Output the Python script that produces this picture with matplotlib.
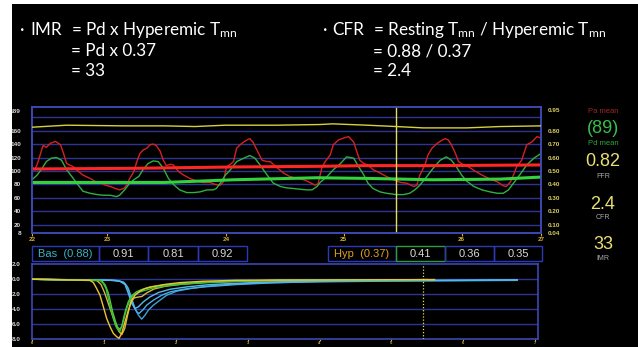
import matplotlib
matplotlib.use("Agg")
import matplotlib.pyplot as plt
from matplotlib.patches import Rectangle

plt.rcParams['font.family'] = ['Lato', 'DejaVu Sans']
plt.rcParams['mathtext.fontset'] = 'custom'
plt.rcParams['mathtext.rm'] = 'Lato'
plt.rcParams['mathtext.it'] = 'Lato:italic'
plt.rcParams['mathtext.bf'] = 'Lato:bold'

# ---------------- data ----------------
# Upper panel: pressure tracing (time axis, mmHg)
t_pa = [22.00,22.03,22.06,22.10,22.11,22.14,22.18,22.23,22.28,22.31,
        22.34,22.37,22.41,22.46,22.50,22.57,22.64,22.68,22.72,22.77,
        22.82,22.86,22.90,22.93,22.96,23.00,23.03,23.06,23.09,23.13,
        23.16,23.19,23.22,23.26,23.29,23.32,23.36,23.39,23.44,23.49,
        23.55,23.62,23.68,23.75,23.80,23.85,23.88,23.91,23.94,23.98,
        24.01,24.06,24.11,24.14,24.17,24.21,24.26,24.31,24.34,24.40,
        24.47,24.53,24.60,24.67,24.73,24.78,24.81,24.83,24.85,24.88,
        24.93,24.96,25.01,25.06,25.11,25.16,25.19,25.22,25.26,25.30,
        25.35,25.42,25.48,25.55,25.62,25.68,25.75,25.78,25.81,25.86,
        25.89,25.93,25.98,26.03,26.06,26.09,26.12,26.16,26.19,26.24,
        26.29,26.34,26.42,26.50,26.57,26.63,26.66,26.70,26.73,26.76,
        26.81,26.86,26.91,26.96,27.00]
pa = [106,102,114,134,138,135,141,144,139,126,
      111,109,106,99,94,89,83,82,79,77,
      74,72,74,79,89,99,114,126,131,134,
      139,140,138,129,116,108,110,109,99,94,
      89,85,83,83,80,79,84,106,109,114,
      134,141,146,148,143,131,116,114,114,106,
      97,92,89,87,83,79,81,94,106,114,
      124,139,146,149,151,143,129,116,111,109,
      102,97,92,87,83,82,77,79,94,109,
      124,134,141,146,148,146,139,126,114,109,
      106,101,94,88,84,78,77,84,94,106,
      116,139,143,151,149]

t_pd = [22.00,22.05,22.10,22.14,22.19,22.24,22.29,22.34,22.39,22.44,
        22.50,22.57,22.64,22.70,22.77,22.83,22.86,22.91,22.96,23.00,
        23.05,23.09,23.14,23.19,23.24,23.29,23.34,23.39,23.45,23.52,
        23.59,23.65,23.72,23.78,23.81,23.85,23.90,23.95,24.01,24.08,
        24.14,24.19,24.24,24.31,24.37,24.44,24.50,24.57,24.63,24.70,
        24.75,24.80,24.83,24.90,24.96,25.03,25.09,25.16,25.21,25.26,
        25.30,25.35,25.42,25.48,25.58,25.65,25.71,25.76,25.81,25.88,
        25.94,26.01,26.07,26.12,26.17,26.22,26.27,26.34,26.42,26.50,
        26.57,26.63,26.68,26.73,26.79,26.86,26.93,26.99]
pd_ = [87,94,104,114,119,120,116,102,92,82,
       70,67,65,64,64,62,64,72,82,87,
       92,102,111,115,114,104,89,80,72,68,
       68,69,72,72,74,82,94,102,114,119,
       123,119,109,94,82,77,75,74,73,72,
       72,77,83,92,102,111,121,119,106,94,
       82,74,69,67,65,65,67,72,79,92,
       104,116,121,116,106,94,85,77,72,69,
       67,67,72,82,94,109,119,125]

t_pa_mean = [22.00,23.00,23.98,24.83,25.29,25.94,27.00]
pa_mean = [103,104,106,107,108,108,109]
t_pd_mean = [22.00,23.30,23.98,24.80,25.30,25.94,26.60,27.00]
pd_mean = [83,83,87,90,89,87,88,91]

t_ratio = [22.00,22.34,22.90,23.30,23.60,23.90,24.40,24.83,24.95,25.29,25.58,25.84,26.27,26.60,27.00]
ratio = [0.825,0.84,0.835,0.835,0.83,0.84,0.84,0.845,0.85,0.84,0.83,0.82,0.82,0.83,0.835]

cursor_t = 25.58
left_ticks = [8,20,40,60,80,100,120,140,160,189]
left_labels = ['8','20','40','60','80','100','120','140','160','189']
right_ticks = [0.04,0.10,0.20,0.30,0.40,0.50,0.60,0.70,0.80,0.95]
right_labels = ['0.04','0.10','0.20','0.30','0.40','0.50','0.60','0.70','0.80','0.95']
grid_vals = [20,40,60,80,100,120,140,160,180]
time_tick_pos = [22.0,22.74,23.91,25.06,26.22,27.0]
time_tick_lab = ['22','23','24','25','26','27']

# Lower panel: thermodilution curves (s, temperature change)
s_yel_a = [0,0.807,0.854,0.900,0.946,0.993,1.039,1.086,1.132,1.178,1.211,1.248,1.294,1.341,1.387,1.433,1.503,1.573,1.665,1.828,2.060,2.384,2.848,3.312,4.2,5.0,5.6]
v_yel_a = [0,-0.14,-0.45,-1.25,-2.14,-3.69,-5.25,-6.36,-7.25,-7.69,-7.91,-7.25,-5.69,-4.14,-2.80,-2.14,-1.60,-1.25,-1.03,-0.72,-0.45,-0.27,-0.14,-0.12,-0.1,-0.06,-0.05]
s_yel_b = [0,0.90,0.96,1.01,1.06,1.11,1.16,1.21,1.25,1.29,1.33,1.37,1.42,1.47,1.53,1.60,1.70,1.85,2.10,2.50,3.00,3.50,4.5,5.6]
v_yel_b = [0,-0.15,-0.7,-1.8,-3.2,-4.6,-6.0,-7.0,-7.4,-6.6,-4.8,-3.2,-2.5,-2.4,-2.3,-1.8,-1.3,-0.95,-0.65,-0.4,-0.25,-0.15,-0.1,-0.05]
s_grn_a = [0,0.946,0.993,1.030,1.062,1.095,1.132,1.169,1.202,1.225,1.248,1.280,1.317,1.364,1.410,1.480,1.549,1.689,1.921,2.384,2.848,3.312,4.5,5.5]
v_grn_a = [0,-0.14,-0.58,-1.25,-2.58,-3.91,-5.25,-6.36,-6.80,-6.94,-6.36,-5.25,-3.91,-2.80,-2.14,-1.78,-1.56,-1.16,-0.80,-0.45,-0.27,-0.14,-0.1,-0.05]
s_grn_b = [0,0.97,1.02,1.06,1.09,1.12,1.16,1.19,1.22,1.25,1.27,1.30,1.34,1.39,1.45,1.52,1.65,1.90,2.40,2.90,3.40,4.5,5.5]
v_grn_b = [0,-0.2,-0.8,-1.8,-3.0,-4.3,-5.6,-6.4,-6.7,-6.3,-5.4,-4.2,-3.0,-2.2,-1.7,-1.4,-1.0,-0.7,-0.4,-0.25,-0.15,-0.1,-0.05]
s_blu_1 = [0,1.178,1.225,1.294,1.341,1.387,1.433,1.480,1.526,1.573,1.619,1.689,1.781,1.874,2.013,2.199,2.477,2.848,3.312,4.0,5.0,6.0,6.75]
v_blu_1 = [0,-0.14,-0.27,-0.58,-1.25,-2.58,-3.91,-4.80,-5.34,-4.80,-4.14,-3.47,-2.80,-2.14,-1.60,-1.25,-0.89,-0.62,-0.45,-0.35,-0.25,-0.2,-0.15]
s_blu_2 = [0,1.132,1.271,1.327,1.373,1.420,1.457,1.489,1.540,1.596,1.689,1.805,1.921,2.106,2.384,2.848,3.312,4.0,5.0,6.0,6.75]
v_blu_2 = [0,-0.14,-0.36,-1.03,-2.36,-3.69,-4.36,-4.58,-4.14,-3.47,-2.80,-2.14,-1.69,-1.34,-1.03,-0.71,-0.50,-0.3,-0.2,-0.15,-0.1]
s_blu_3 = [0,1.086,1.225,1.294,1.341,1.387,1.433,1.480,1.549,1.642,1.758,1.921,2.152,2.477,2.848,3.312,4.0,5.0,6.0,6.75]
v_blu_3 = [0,-0.14,-0.27,-0.71,-1.91,-3.25,-3.91,-3.69,-3.03,-2.36,-1.78,-1.34,-1.03,-0.71,-0.54,-0.36,-0.25,-0.18,-0.12,-0.08]
td_cursor = 5.44
td_yticks = [2,0,-2,-4,-6,-8]
td_ylabels = ['2.0','0.0','2.0','4.0','6.0','8.0']
td_xticks = [0,1,2,3,4,5,6,7]
td_grid = [0,-2,-4,-6]

bas_label = 'Bas  (0.88)'
bas_values = ['0.91','0.81','0.92']
hyp_label = 'Hyp  (0.37)'
hyp_values = ['0.41','0.36','0.35']

side_texts = [('Pa mean', 111, 5.5, '#a02828'),
              ('(89)', 128, 13, '#38c048'),
              ('Pd mean', 143, 5.5, '#30a840'),
              ('0.82', 161, 13, '#e8e070'),
              ('FFR', 176, 5, '#a8a8a8'),
              ('2.4', 204, 13, '#e8e070'),
              ('CFR', 217, 5, '#a8a8a8'),
              ('33', 244, 13, '#e8e070'),
              ('IMR', 259, 5, '#a8a8a8')]

# ---------------- figure ----------------
W, H = 638, 347
fig = plt.figure(figsize=(W/100, H/100), dpi=100, facecolor='black')

def ax_px(x0, y0, x1, y1):
    return fig.add_axes([x0/W, 1 - y1/H, (x1 - x0)/W, (y1 - y0)/H])

SPINE = '#3c48b4'
GRID = '#2e3494'
MONO = ['Liberation Sans', 'DejaVu Sans']

# Upper panel
ax = ax_px(32, 107, 541, 233)
ax.set_facecolor('black')
ax.set_xlim(22, 27)
ax.set_ylim(8, 195)
for g in grid_vals:
    ax.axhline(g, color=GRID, lw=1.0, zorder=1)
ax.plot(t_pa, pa, color='#d42222', lw=1.0, zorder=3)
ax.plot(t_pd, pd_, color='#2fb040', lw=1.0, zorder=3)
ax.plot(t_pa_mean, pa_mean, color='#ff2626', lw=2.2, zorder=4)
ax.plot(t_pd_mean, pd_mean, color='#33d23f', lw=2.2, zorder=4)
ax.axvline(cursor_t, color='#e4dc60', lw=1.0, zorder=5)
ax.set_yticks(left_ticks)
ax.set_yticklabels(left_labels, fontsize=4.6, color='#d8d8d8', fontweight='bold', family=MONO)
ax.tick_params(axis='y', length=0, pad=8)
ax.set_xticks(time_tick_pos)
ax.set_xticklabels(time_tick_lab, fontsize=4.6, color='#d4b030', fontweight='bold', family=MONO)
ax.tick_params(axis='x', length=2, width=0.8, color='#d4b030', pad=1)
for sp in ax.spines.values():
    sp.set_color(SPINE)
    sp.set_linewidth(1.2)

ax2 = ax.twinx()
ax2.set_ylim(0.04, 0.975)
ax2.plot(t_ratio, ratio, color='#d8d040', lw=1.0, zorder=3)
ax2.set_yticks(right_ticks)
ax2.set_yticklabels(right_labels, fontsize=4.6, color='#d8cc60', fontweight='bold', family=MONO)
ax2.tick_params(axis='y', length=0, pad=5)
ax2.set_xlim(22, 27)
for sp in ax2.spines.values():
    sp.set_color(SPINE)
    sp.set_linewidth(1.2)

# Lower panel
bx = ax_px(32, 264, 538, 339)
bx.set_facecolor('black')
bx.set_xlim(0, 7.04)
bx.set_ylim(-8, 2.04)
for g in td_grid:
    bx.axhline(g, color=GRID, lw=1.0, zorder=1)
bx.plot(s_blu_1, v_blu_1, color='#3aa4dc', lw=1.0, zorder=3)
bx.plot(s_blu_2, v_blu_2, color='#46b0e6', lw=1.0, zorder=3)
bx.plot(s_blu_3, v_blu_3, color='#58b8ea', lw=1.0, zorder=3)
bx.plot(s_yel_b, v_yel_b, color='#d8b838', lw=1.0, zorder=4)
bx.plot(s_grn_b, v_grn_b, color='#5cc838', lw=1.0, zorder=4)
bx.plot(s_grn_a, v_grn_a, color='#36c23c', lw=1.0, zorder=4)
bx.plot(s_yel_a, v_yel_a, color='#ecc432', lw=1.0, zorder=5)
bx.axvline(td_cursor, color='#e4dc60', lw=0.9, ls=(0, (1, 1.5)), zorder=5)
bx.set_yticks(td_yticks)
bx.set_yticklabels(td_ylabels, fontsize=4.6, color='#d8d8d8', fontweight='bold', family=MONO)
bx.tick_params(axis='y', length=0, pad=8)
bx.set_xticks(td_xticks)
bx.set_xticklabels([str(v) for v in td_xticks], fontsize=3, color='#d4b030', fontweight='bold', family=MONO)
bx.tick_params(axis='x', length=1.5, width=0.8, color='#d4b030', pad=0.3)
for sp in bx.spines.values():
    sp.set_color(SPINE)
    sp.set_linewidth(1.2)

# Overlay for text, boxes and borders
ov = fig.add_axes([0, 0, 1, 1], zorder=10)
ov.set_xlim(0, W)
ov.set_ylim(H, 0)
ov.axis('off')
ov.patch.set_alpha(0)

def box_row(edges, label, values, label_color, value_border):
    for i in range(len(edges) - 1):
        ec = '#2a3ab4' if (i == 0 or value_border[i - 1] is None) else value_border[i - 1]
        ov.add_patch(Rectangle((edges[i], 246), edges[i + 1] - edges[i], 15,
                               fill=False, ec=ec, lw=1.0))
        txt = label if i == 0 else values[i - 1]
        col = label_color if i == 0 else '#d8d8d8'
        ov.text((edges[i] + edges[i + 1]) / 2, 254, txt, color=col, fontsize=8,
                ha='center', va='center', family=MONO)

box_row([32, 99, 148, 198, 247], bas_label, bas_values, '#34b4c8', [None, None, None])
box_row([328, 396, 445, 494, 542], hyp_label, hyp_values, '#e0a020', ['#2e9a44', None, None])

for txt, y, fs, col in side_texts:
    ov.text(603, y, txt, color=col, fontsize=fs, ha='center', va='center', family=MONO)

# headline formulas
TF = 12.3
ov.text(20, 35, '·', color='white', fontsize=TF, va='baseline')
ov.text(30, 35, 'IMR', color='white', fontsize=TF, va='baseline')
ov.text(71, 35, r'= Pd x Hyperemic T$_{\mathrm{mn}}$', color='white', fontsize=TF, va='baseline')
ov.text(71, 56, '= Pd x 0.37', color='white', fontsize=TF, va='baseline')
ov.text(71, 76, '= 33', color='white', fontsize=TF, va='baseline')
ov.text(323, 35, '·', color='white', fontsize=TF, va='baseline')
ov.text(332, 35, 'CFR', color='white', fontsize=TF, va='baseline')
ov.text(373, 35, r'= Resting T$_{\mathrm{mn}}$ / Hyperemic T$_{\mathrm{mn}}$', color='white', fontsize=TF, va='baseline')
ov.text(373, 56, '= 0.88 / 0.37', color='white', fontsize=TF, va='baseline')
ov.text(373, 76, '= 2.4', color='white', fontsize=TF, va='baseline')

# white border of the screenshot
ov.add_patch(Rectangle((0, 0), 12, H, color='white', lw=0, zorder=20))
ov.add_patch(Rectangle((0, 0), W, 4, color='white', lw=0, zorder=20))

fig.savefig('out.png', dpi=100, facecolor='black')
